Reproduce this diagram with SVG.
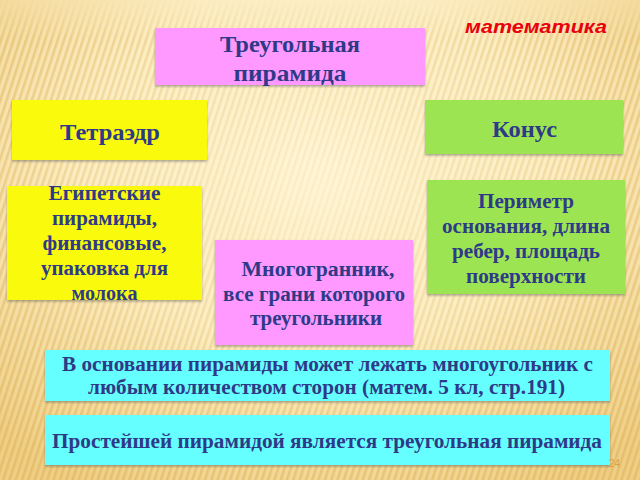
<svg xmlns="http://www.w3.org/2000/svg" width="640" height="480" viewBox="0 0 640 480">
  <defs>
    <radialGradient id="bg" cx="0.5" cy="0.35" r="0.75">
      <stop offset="0" stop-color="#FFF6D6"/>
      <stop offset="0.5" stop-color="#FCEDC2"/>
      <stop offset="1" stop-color="#EFCF86"/>
    </radialGradient>
    <pattern id="stripes" width="6" height="6" patternUnits="userSpaceOnUse" patternTransform="rotate(18)">
      <rect x="0" y="0" width="2.5" height="6" fill="#E2BA66"/>
    </pattern>
    <radialGradient id="stripeMask" cx="0.5" cy="0.4" r="0.7">
      <stop offset="0" stop-color="#fff" stop-opacity="0.1"/>
      <stop offset="0.5" stop-color="#fff" stop-opacity="0.35"/>
      <stop offset="1" stop-color="#fff" stop-opacity="0.8"/>
    </radialGradient>
    <linearGradient id="topFade" x1="0" y1="0" x2="0" y2="1">
      <stop offset="0" stop-color="#000"/>
      <stop offset="1" stop-color="#000" stop-opacity="0"/>
    </linearGradient>
    <mask id="m">
      <rect width="640" height="480" fill="url(#stripeMask)"/>
      <rect width="640" height="40" fill="url(#topFade)"/>
    </mask>
    <linearGradient id="line" x1="0" y1="0" x2="1" y2="0">
      <stop offset="0" stop-color="#E6A93A" stop-opacity="0"/>
      <stop offset="0.2" stop-color="#E6A93A" stop-opacity="0.9"/>
      <stop offset="1" stop-color="#E6A93A" stop-opacity="0.6"/>
    </linearGradient>
    <filter id="sh" x="-5%" y="-5%" width="110%" height="120%">
      <feDropShadow dx="0" dy="1.5" stdDeviation="0.8" flood-color="#555" flood-opacity="0.5"/>
    </filter>
  </defs>
  <style>
    .t { font-family: 'Liberation Serif', 'Times New Roman', serif; font-weight: bold; fill: #2E3A87; text-anchor: middle; }
    .s24 { font-size: 24px; }
    .s20 { font-size: 20px; }
    .box { filter: url(#sh); }
    .pink { fill: #FF99FF; }
    .yellow { fill: #FAFA0A; }
    .green { fill: #9DE453; }
    .cyan { fill: #66FFFF; }
  </style>

  <rect width="640" height="480" fill="url(#bg)"/>
  <rect width="640" height="480" fill="url(#stripes)" mask="url(#m)"/>
  <line x1="40" y1="73" x2="640" y2="73" stroke="url(#line)" stroke-width="1.6"/>

  <text x="536" y="33" font-family="'Liberation Sans', Arial, sans-serif" font-weight="bold" font-style="italic" font-size="19" fill="#E8000B" text-anchor="middle" textLength="142" lengthAdjust="spacingAndGlyphs">математика</text>

  <g id="node-triangular-pyramid">
    <rect class="box pink" x="155" y="28" width="270" height="57"/>
    <text class="t s24" x="290" y="52" textLength="140" lengthAdjust="spacingAndGlyphs">Треугольная</text>
    <text class="t s24" x="290" y="81" textLength="113" lengthAdjust="spacingAndGlyphs">пирамида</text>
  </g>

  <g id="node-tetrahedron">
    <rect class="box yellow" x="12" y="100" width="195" height="60"/>
    <text class="t s24" x="110" y="140" textLength="100" lengthAdjust="spacingAndGlyphs">Тетраэдр</text>
  </g>

  <g id="node-cone">
    <rect class="box green" x="425" y="100" width="198" height="54"/>
    <text class="t s24" x="524.5" y="137" textLength="65" lengthAdjust="spacingAndGlyphs">Конус</text>
  </g>

  <g id="node-examples">
    <rect class="box yellow" x="7" y="186" width="195" height="114"/>
    <text class="t s20" x="104.5" y="200" textLength="112" lengthAdjust="spacingAndGlyphs">Египетские</text>
    <text class="t s20" x="104.5" y="225" textLength="105" lengthAdjust="spacingAndGlyphs">пирамиды,</text>
    <text class="t s20" x="104.5" y="250" textLength="124" lengthAdjust="spacingAndGlyphs">финансовые,</text>
    <text class="t s20" x="104.5" y="275" textLength="127" lengthAdjust="spacingAndGlyphs">упаковка для</text>
    <text class="t s20" x="104.5" y="300" textLength="66" lengthAdjust="spacingAndGlyphs">молока</text>
  </g>

  <g id="node-perimeter">
    <rect class="box green" x="427" y="180" width="198" height="114"/>
    <text class="t s20" x="526" y="208" textLength="96" lengthAdjust="spacingAndGlyphs">Периметр</text>
    <text class="t s20" x="526" y="233" textLength="168" lengthAdjust="spacingAndGlyphs">основания, длина</text>
    <text class="t s20" x="526" y="258" textLength="148" lengthAdjust="spacingAndGlyphs">ребер, площадь</text>
    <text class="t s20" x="526" y="283" textLength="120" lengthAdjust="spacingAndGlyphs">поверхности</text>
  </g>

  <g id="node-polyhedron">
    <rect class="box pink" x="215" y="240" width="198" height="105"/>
    <text class="t s20" x="318" y="276" textLength="153" lengthAdjust="spacingAndGlyphs">Многогранник,</text>
    <text class="t s20" x="314" y="301" textLength="182" lengthAdjust="spacingAndGlyphs">все грани которого</text>
    <text class="t s20" x="316" y="325" textLength="132" lengthAdjust="spacingAndGlyphs">треугольники</text>
  </g>

  <g id="node-base">
    <rect class="box cyan" x="45" y="350" width="565" height="51"/>
    <text class="t s20" x="327.5" y="371" textLength="531" lengthAdjust="spacingAndGlyphs">В основании пирамиды может лежать многоугольник с</text>
    <text class="t s20" x="326.5" y="394" textLength="477" lengthAdjust="spacingAndGlyphs">любым количеством сторон (матем. 5 кл, стр.191)</text>
  </g>

  <g id="node-simplest">
    <rect class="box cyan" x="45" y="415" width="565" height="50"/>
    <text class="t s20" x="327" y="448" textLength="550" lengthAdjust="spacingAndGlyphs">Простейшей пирамидой является треугольная пирамида</text>
  </g>

  <text x="609" y="467" font-family="'Liberation Sans', Arial, sans-serif" font-size="10" fill="#D9A040">24</text>
</svg>
